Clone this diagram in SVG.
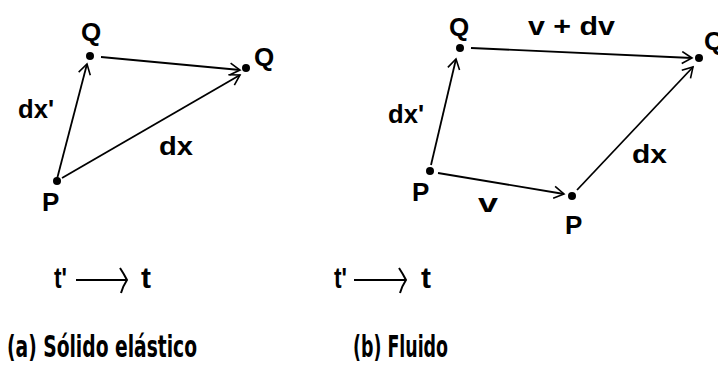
<svg xmlns="http://www.w3.org/2000/svg" width="718" height="366" viewBox="0 0 718 366">
<style>
.lbl{font-family:"Liberation Sans","Arial",sans-serif;font-weight:bold;font-size:26px;fill:#000}
.cap{font-family:"Liberation Sans Narrow","DejaVu Sans Condensed","Liberation Sans",sans-serif;font-weight:bold;font-size:31px;fill:#000}
.tt{font-family:"Liberation Sans","Arial",sans-serif;font-weight:bold;font-size:29px;fill:#000}
.vec{stroke:#000;stroke-width:1.8;fill:none;marker-end:url(#ah)}
.dot{fill:#000}
.tarr{stroke:#000;stroke-width:2;fill:none}
</style>
<defs>
<marker id="ah" markerUnits="userSpaceOnUse" markerWidth="14" markerHeight="14" refX="11" refY="6" orient="auto" viewBox="0 0 14 12">
<path d="M1,0 L11,6 L1,12" fill="none" stroke="#000" stroke-width="1.6"/>
</marker>
</defs>
<rect width="718" height="366" fill="#fff"/>

<g id="connectors">
<line class="vec" x1="57" y1="179" x2="87" y2="64"/>
<line class="vec" x1="101" y1="57" x2="240" y2="70"/>
<line class="vec" x1="62" y1="178" x2="240" y2="75"/>
<line class="vec" x1="431" y1="165" x2="456" y2="59"/>
<line class="vec" x1="471" y1="48" x2="692" y2="58"/>
<line class="vec" x1="438" y1="173" x2="564" y2="194"/>
<line class="vec" x1="577" y1="190" x2="693" y2="67"/>
</g>

<g id="panel-a">
<g id="a-Q1"><circle class="dot" cx="90" cy="56" r="4"/><text class="lbl" x="91" y="41" text-anchor="middle">Q</text></g>
<g id="a-Q2"><circle class="dot" cx="246" cy="68" r="4"/><text class="lbl" x="254" y="66">Q</text></g>
<g id="a-P"><circle class="dot" cx="57" cy="181" r="4"/><text class="lbl" x="42" y="211">P</text></g>
<text class="lbl" x="18" y="118" textLength="36" lengthAdjust="spacingAndGlyphs">dx'</text>
<text class="lbl" x="159" y="155" textLength="34" lengthAdjust="spacingAndGlyphs">dx</text>
<g id="a-time">
<text class="tt" x="54" y="288" textLength="13" lengthAdjust="spacingAndGlyphs">t'</text>
<line class="tarr" x1="76" y1="280" x2="126" y2="280"/>
<path class="tarr" d="M120,268 Q124,274 127,280 Q123,286 121,293"/>
<text class="tt" x="141" y="288" textLength="10" lengthAdjust="spacingAndGlyphs">t</text>
</g>
<text class="cap" x="7" y="357" textLength="190" lengthAdjust="spacingAndGlyphs">(a) Sólido elástico</text>
</g>

<g id="panel-b">
<g id="b-Q1"><circle class="dot" cx="460" cy="48" r="4"/><text class="lbl" x="459" y="36" text-anchor="middle">Q</text></g>
<g id="b-Q2"><circle class="dot" cx="699" cy="58" r="4"/><text class="lbl" x="704" y="50">Q</text></g>
<g id="b-P1"><circle class="dot" cx="430" cy="171" r="4"/><text class="lbl" x="412" y="201">P</text></g>
<g id="b-P2"><circle class="dot" cx="572" cy="196" r="4"/><text class="lbl" x="565" y="234">P</text></g>
<text class="lbl" x="388" y="123" textLength="36" lengthAdjust="spacingAndGlyphs">dx'</text>
<text class="lbl" x="632" y="163" textLength="35" lengthAdjust="spacingAndGlyphs">dx</text>
<text class="lbl" x="528" y="35" textLength="87" lengthAdjust="spacingAndGlyphs">v + dv</text>
<text class="lbl" x="478" y="212" textLength="20" lengthAdjust="spacingAndGlyphs">v</text>
<g id="b-time">
<text class="tt" x="334" y="288" textLength="13" lengthAdjust="spacingAndGlyphs">t'</text>
<line class="tarr" x1="354" y1="280" x2="405" y2="280"/>
<path class="tarr" d="M399,268 Q403,274 406,280 Q402,286 400,293"/>
<text class="tt" x="421" y="288" textLength="10" lengthAdjust="spacingAndGlyphs">t</text>
</g>
<text class="cap" x="353" y="357" textLength="95" lengthAdjust="spacingAndGlyphs">(b) Fluido</text>
</g>
</svg>
